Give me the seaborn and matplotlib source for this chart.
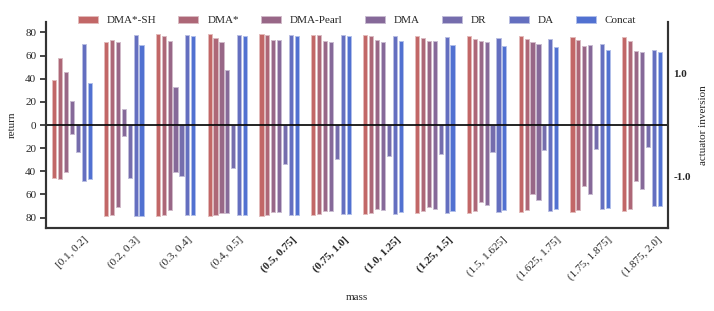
import numpy as np
import pandas as pd
import matplotlib
matplotlib.use("Agg")
import matplotlib.pyplot as plt
import matplotlib.colors as mcolors
import seaborn as sns

# ------------------------------------------------------------------
# data
# ------------------------------------------------------------------
masses = ["[0.1, 0.2]", "(0.2, 0.3]", "(0.3, 0.4]", "(0.4, 0.5]",
          "(0.5, 0.75]", "(0.75, 1.0]", "(1.0, 1.25]", "(1.25, 1.5]",
          "(1.5, 1.625]", "(1.625, 1.75]", "(1.75, 1.875]", "(1.875, 2.0]"]
train_masses = ["(0.5, 0.75]", "(0.75, 1.0]", "(1.0, 1.25]", "(1.25, 1.5]"]
methods = ["DMA*-SH", "DMA*", "DMA-Pearl", "DMA", "DR", "DA", "Concat"]

# return, actuator inversion = 1.0
dma_sh_pos = [39, 72, 79, 79, 78.6, 77.7, 77.4, 77, 76.9, 76.9, 76.3, 75.7]
dma_star_pos = [58, 73.4, 76.6, 75, 78, 77.7, 76.6, 74.9, 74.3, 74, 73.4, 72.9]
dma_pearl_pos = [46, 72, 72.6, 71.4, 73.7, 73, 73.4, 72.9, 72.6, 71.7, 68.3, 64]
dma_pos = [21, 14, 33, 48, 73.7, 72, 72, 72.3, 71.7, 70.3, 68.9, 63]
dr_pos = [0, 0, 0, 0, 0, 0, 0, 0, 0, 0, 0, 0]
da_pos = [70, 77.7, 77.4, 77.7, 77.4, 77.7, 77, 75.7, 74.9, 74, 70, 65]
concat_pos = [36, 69, 77, 77, 77, 76.6, 72.9, 68.9, 68.3, 67.4, 65, 62.9]

# return, actuator inversion = -1.0
dma_sh_neg = [46, 79, 79, 79, 78.6, 77.4, 76.9, 76.3, 75.7, 75.4, 75.1, 74.6]
dma_star_neg = [46.5, 78, 77.7, 78, 78, 76.6, 76, 74.6, 74.3, 73.4, 73.1, 72.9]
dma_pearl_neg = [41, 71, 73.7, 75.7, 75, 74.3, 73, 71, 66.6, 59.4, 52.3, 48]
dma_neg = [7.4, 9.4, 41, 75.7, 75, 74.3, 73.7, 73, 69.4, 64.6, 60, 55]
dr_neg = [23, 46, 44, 37, 33.7, 29, 26.6, 24.9, 23, 21.4, 20.3, 18.6]
da_neg = [48, 78.6, 78, 78, 77.4, 77, 76.6, 76, 75.4, 74.6, 72.9, 69.7]
concat_neg = [46.5, 78.3, 78, 78, 77.7, 76.6, 75.4, 74.6, 73.7, 72.6, 71.7, 69.7]

pos_vals = [dma_sh_pos, dma_star_pos, dma_pearl_pos, dma_pos, dr_pos, da_pos, concat_pos]
neg_vals = [dma_sh_neg, dma_star_neg, dma_pearl_neg, dma_neg, dr_neg, da_neg, concat_neg]

rows = []
for m, pv, nv in zip(methods, pos_vals, neg_vals):
    for mass, p, n in zip(masses, pv, nv):
        rows.append({"mass": mass, "method": m, "inversion": 1.0, "return": p})
        rows.append({"mass": mass, "method": m, "inversion": -1.0, "return": n})
df = pd.DataFrame(rows)
df["signed"] = df["return"] * df["inversion"]

# ------------------------------------------------------------------
# plot
# ------------------------------------------------------------------
sns.set_theme(style="ticks")
plt.rcParams["font.family"] = ["Liberation Serif", "DejaVu Serif"]
plt.rcParams["font.size"] = 8

palette = sns.blend_palette(["indianred", "royalblue"], len(methods))

fig = plt.figure(figsize=(7.14, 3.11), dpi=100)
ax = fig.add_axes([0.0644, 0.267, 0.8712, 0.662])

sns.barplot(data=df[df["inversion"] == 1.0], x="mass", y="signed", hue="method",
            order=masses, hue_order=methods, palette=palette, gap=0.3,
            width=0.8, saturation=0.8, ax=ax)
sns.barplot(data=df[df["inversion"] == -1.0], x="mass", y="signed", hue="method",
            order=masses, hue_order=methods, palette=palette, gap=0.3,
            width=0.8, saturation=0.8, ax=ax, legend=False)

# light halo around each bar
for p in ax.patches:
    fc = np.array(mcolors.to_rgb(p.get_facecolor()))
    p.set_edgecolor(fc * 0.45 + 0.55)
    p.set_linewidth(0.7)

ax.axhline(0, color="black", lw=1.2, zorder=5)
ax.set_ylim(-89, 89)
yt = np.arange(-80, 81, 20)
ax.set_yticks(yt)
ax.set_yticklabels([str(abs(v)) for v in yt], fontsize=8)
ax.tick_params(axis="y", length=4.5, width=1.2, pad=2.5)
ax.set_ylabel("return", fontsize=8, labelpad=6)
ax.set_xlabel("mass", fontsize=8, labelpad=8)
ax.set_xlim(-0.5, len(masses) - 0.5)
ax.tick_params(axis="x", length=0, pad=5)
for lbl in ax.get_xticklabels():
    lbl.set_rotation(45)
    lbl.set_fontsize(8)
    if lbl.get_text() in train_masses:
        lbl.set_fontweight("bold")

ax2 = ax.twinx()
ax2.set_ylim(-2, 2)
ax2.set_yticks([1.0, -1.0])
ax2.set_yticklabels(["1.0", "-1.0"], fontweight="bold", fontsize=8)
ax2.set_ylabel("actuator inversion", fontsize=8, labelpad=6)
ax2.tick_params(axis="y", length=0, pad=4)

for a in (ax, ax2):
    a.spines["top"].set_visible(False)
    for s in ("left", "bottom", "right"):
        a.spines[s].set_linewidth(1.5)
        a.spines[s].set_color(".2")

handles, labels = ax.get_legend_handles_labels()
ax.legend(handles, labels, loc="lower center", bbox_to_anchor=(0.5, 0.935),
          ncol=7, frameon=False, fontsize=8, handlelength=1.8,
          handleheight=0.55, columnspacing=2.0, handletextpad=0.8)

fig.savefig("out.png", dpi=100)
